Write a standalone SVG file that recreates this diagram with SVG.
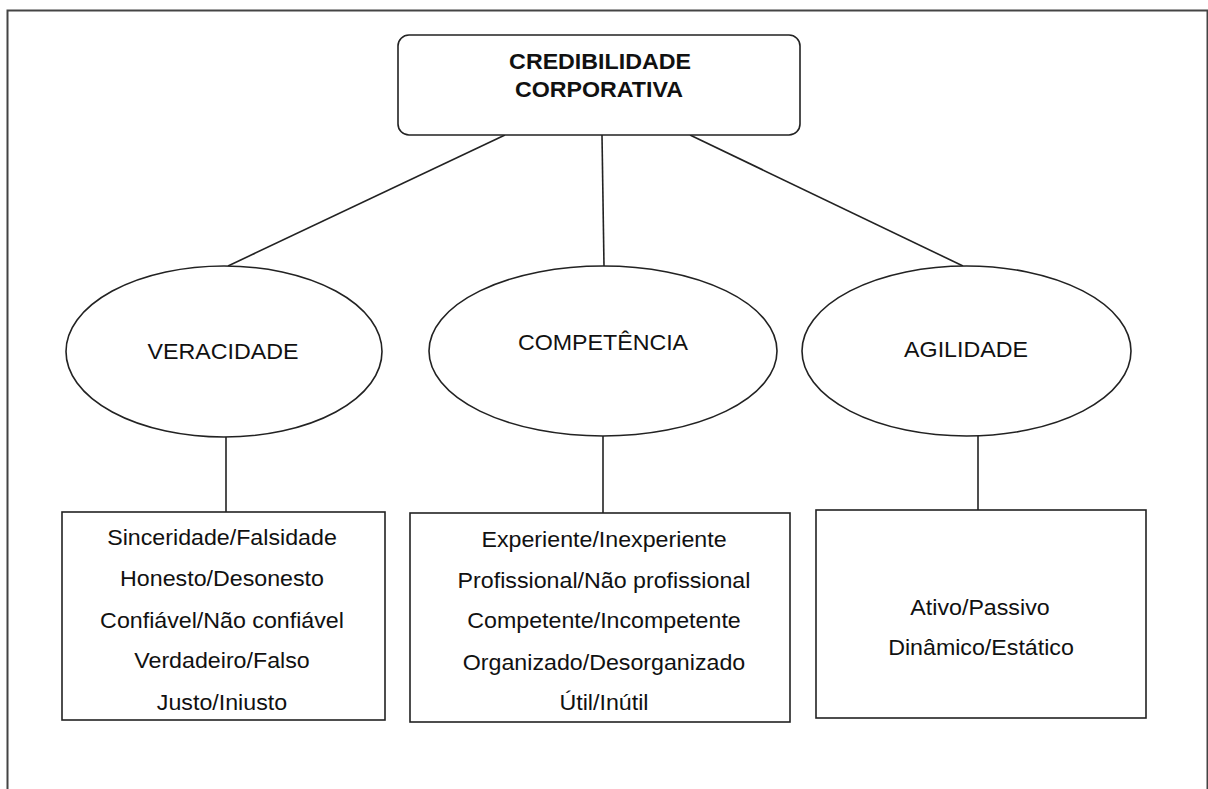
<svg xmlns="http://www.w3.org/2000/svg" width="1208" height="789" viewBox="0 0 1208 789">
  <style>
    .frame { fill: none; stroke: #444; stroke-width: 2; }
    .shape { fill: #fff; stroke: #222; stroke-width: 1.6; }
    .link { stroke: #222; stroke-width: 1.6; fill: none; }
    text { font-family: "Liberation Sans", Arial, sans-serif; font-size: 21.5px; fill: #111; text-anchor: middle; }
    .title { font-weight: bold; }
  </style>
  <rect width="1208" height="789" fill="#fff"/>
  <!-- outer frame -->
  <rect class="frame" x="7.5" y="10.5" width="1200" height="800"/>

  <!-- connectors -->
  <g id="connectors">
    <line class="link" x1="505" y1="135" x2="228" y2="266"/>
    <line class="link" x1="602" y1="135" x2="604" y2="266"/>
    <line class="link" x1="690" y1="135" x2="963" y2="266"/>
    <line class="link" x1="226" y1="437" x2="226" y2="512"/>
    <line class="link" x1="603" y1="436" x2="603" y2="513"/>
    <line class="link" x1="978" y1="436" x2="978" y2="510"/>
  </g>

  <!-- root -->
  <g id="credibilidade">
    <rect class="shape" x="398" y="35" width="402" height="100" rx="11"/>
    <text class="title" transform="translate(600 69) scale(1.08 1)">CREDIBILIDADE</text>
    <text class="title" transform="translate(599 97) scale(1.08 1)">CORPORATIVA</text>
  </g>

  <!-- dimensions -->
  <g id="veracidade">
    <ellipse class="shape" cx="224" cy="351.5" rx="158" ry="85.5"/>
    <text transform="translate(223 359) scale(1.08 1)">VERACIDADE</text>
  </g>
  <g id="competencia">
    <ellipse class="shape" cx="603" cy="351" rx="174" ry="85"/>
    <text transform="translate(603 350) scale(1.08 1)">COMPETÊNCIA</text>
  </g>
  <g id="agilidade">
    <ellipse class="shape" cx="966.5" cy="351" rx="164.5" ry="85"/>
    <text transform="translate(966 357) scale(1.08 1)">AGILIDADE</text>
  </g>

  <!-- attribute lists -->
  <g id="lista-veracidade">
    <rect class="shape" x="62" y="512" width="323" height="208"/>
    <text transform="translate(222 545) scale(1.08 1)">Sinceridade/Falsidade</text>
    <text transform="translate(222 586) scale(1.08 1)">Honesto/Desonesto</text>
    <text transform="translate(222 628) scale(1.08 1)">Confiável/Não confiável</text>
    <text transform="translate(222 668) scale(1.08 1)">Verdadeiro/Falso</text>
    <text transform="translate(222 710) scale(1.08 1)">Justo/Iniusto</text>
  </g>
  <g id="lista-competencia">
    <rect class="shape" x="410" y="513" width="380" height="209"/>
    <text transform="translate(604 547) scale(1.08 1)">Experiente/Inexperiente</text>
    <text transform="translate(604 588) scale(1.08 1)">Profissional/Não profissional</text>
    <text transform="translate(604 628) scale(1.08 1)">Competente/Incompetente</text>
    <text transform="translate(604 670) scale(1.08 1)">Organizado/Desorganizado</text>
    <text transform="translate(604 710) scale(1.08 1)">Útil/Inútil</text>
  </g>
  <g id="lista-agilidade">
    <rect class="shape" x="816" y="510" width="330" height="208"/>
    <text transform="translate(980 615) scale(1.08 1)">Ativo/Passivo</text>
    <text transform="translate(981 655) scale(1.08 1)">Dinâmico/Estático</text>
  </g>
</svg>
